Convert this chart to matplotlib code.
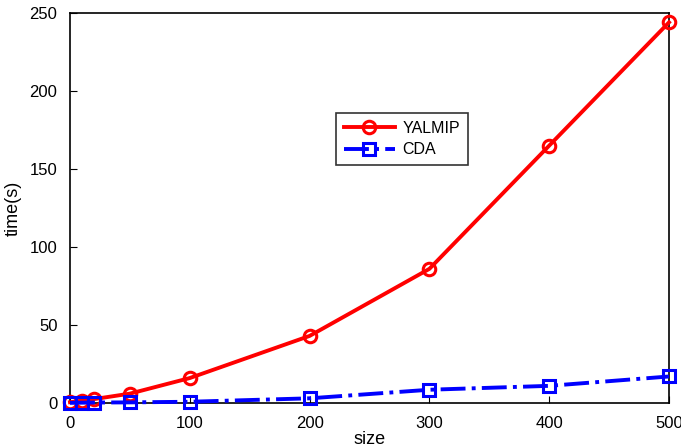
import matplotlib
matplotlib.use("Agg")
import matplotlib.pyplot as plt

plt.rcParams['font.family'] = ['Liberation Sans', 'DejaVu Sans']

sizes = [0, 10, 20, 50, 100, 200, 300, 400, 500]
yalmip = [0.5, 1.5, 2.5, 6, 16, 43, 86, 165, 244]
cda = [0.1, 0.2, 0.3, 0.4, 0.8, 3, 8.5, 11, 17]

fig = plt.figure(figsize=(6.81, 4.47), dpi=100)
ax = fig.add_axes([70 / 681, 44 / 447, 599 / 681, 390 / 447])

ax.plot(sizes, yalmip, "-o", color="red", lw=2.8, ms=9, mew=2.2,
        mfc="none", label="YALMIP", clip_on=False, zorder=3)
ax.plot(sizes, cda, "-.s", color="blue", lw=2.8, ms=8, mew=2.2,
        mfc="none", label="CDA", clip_on=False, zorder=3)

ax.set_xlim(0, 500)
ax.set_ylim(0, 250)
ax.set_xticks([0, 100, 200, 300, 400, 500])
ax.set_yticks([0, 50, 100, 150, 200, 250])
ax.tick_params(direction="in", length=5, labelsize=12, top=False, right=False)
ax.tick_params(axis="x", pad=9)
ax.tick_params(axis="y", pad=9)
for s in ax.spines.values():
    s.set_linewidth(1.2)
ax.set_xlabel("size", fontsize=13, labelpad=0)
ax.set_ylabel("time(s)", fontsize=13, labelpad=6)

leg = ax.legend(loc="upper left", bbox_to_anchor=(0.43, 0.764), fontsize=11.5,
                fancybox=False, edgecolor="black", handlelength=3.2,
                handletextpad=0.5, borderpad=0.5, labelspacing=0.4)
leg.get_frame().set_linewidth(1.2)

fig.savefig("out.png")
